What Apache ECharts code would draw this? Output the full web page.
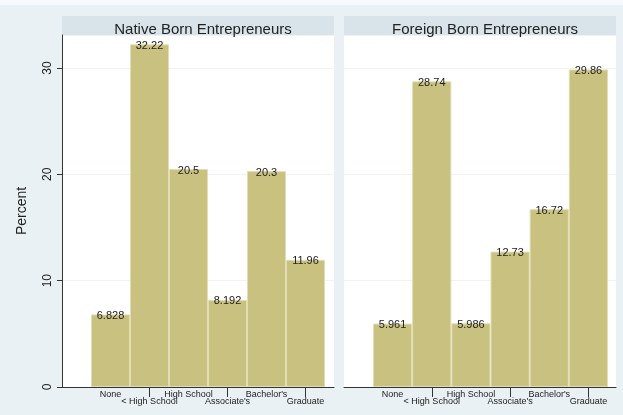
<!DOCTYPE html>
<html>
<head>
<meta charset="utf-8">
<script src="https://cdn.jsdelivr.net/npm/echarts@6/dist/echarts.min.js"></script>
<style>
html, body { margin: 0; padding: 0; }
#chart { width: 623px; height: 415px; }
</style>
</head>
<body>
<div id="chart"></div>
<script>
var categories = ['None', '< High School', 'High School', "Associate's", "Bachelor's", 'Graduate'];
var panelTitles = ['Native Born Entrepreneurs', 'Foreign Born Entrepreneurs'];
var nativeBorn = [6.828, 32.22, 20.5, 8.192, 20.3, 11.96];
var foreignBorn = [5.961, 28.74, 5.986, 12.73, 16.72, 29.86];
var yTicks = [0, 10, 20, 30];

var font = "'Liberation Sans', Arial, sans-serif";
var barColor = '#c9c17f';
var yMax = 33.1;
var plotTop = 35, plotBottom = 28; // 415 - 387

var chartDom = document.getElementById('chart');
var myChart = echarts.init(chartDom, null, { renderer: 'canvas', devicePixelRatio: 1 });

// outer grid = white plot region with axis lines, inner grid = bar band
var panels = [
	{ outer: 62, inner: 91, width: 272, innerWidth: 234, data: nativeBorn },
	{ outer: 344, inner: 373, width: 272, innerWidth: 235, data: foreignBorn }
];

var grids = [], xAxes = [], yAxes = [], series = [], titles = [], graphics = [];

graphics.push({ type: 'rect', shape: { x: 0, y: 0, width: 623, height: 5 }, style: { fill: '#f7fafb' }, silent: true });

panels.forEach(function (p, i) {
	graphics.push({ type: 'rect', z: -1, shape: { x: p.outer, y: 16, width: p.width, height: 19 }, style: { fill: '#d8e4ea' }, silent: true });
	titles.push({
		text: panelTitles[i],
		left: p.outer + p.width / 2,
		top: 17,
		textAlign: 'center',
		textStyle: { fontFamily: font, fontSize: 15, fontWeight: 'normal', color: '#222' }
	});

	grids.push({ left: p.outer, width: p.width, top: plotTop, bottom: plotBottom, show: true, backgroundColor: '#fff', borderWidth: 0 });
	grids.push({ left: p.inner, width: p.innerWidth, top: plotTop, bottom: plotBottom });

	var g = i * 2;
	xAxes.push({
		gridIndex: g, type: 'value', min: 0, max: 1,
		axisLine: { show: true, lineStyle: { color: '#333', width: 1 } },
		axisTick: { show: false }, axisLabel: { show: false }, splitLine: { show: false }
	});
	yAxes.push({
		gridIndex: g, type: 'value', min: 0, max: yMax, interval: 10,
		name: i === 0 ? 'Percent' : '',
		nameLocation: 'middle', nameGap: 33, nameRotate: 90,
		nameTextStyle: { fontFamily: font, fontSize: 14, color: '#222' },
		axisLine: { show: i === 0, lineStyle: { color: '#333' } },
		axisTick: { show: i === 0, length: 5, lineStyle: { color: '#333' } },
		axisLabel: {
			show: i === 0, rotate: 90, margin: 8, showMaxLabel: false,
			fontFamily: font, fontSize: 12, color: '#222',
			formatter: function (v) { return yTicks.indexOf(v) >= 0 ? String(v) : ''; }
		},
		splitLine: { show: true, lineStyle: { color: '#eef3f5', width: 1 } }
	});

	xAxes.push({
		gridIndex: g + 1, type: 'category', data: categories,
		axisLine: { show: false },
		axisTick: {
			show: true, alignWithLabel: true, length: 10, lineStyle: { color: '#333' },
			interval: function (idx) { return idx % 2 === 1; }
		},
		axisLabel: {
			interval: 0, margin: 3, fontFamily: font, fontSize: 9, color: '#222',
			formatter: function (v, idx) { return idx % 2 === 0 ? '{a|' + v + '}' : '{b|' + v + '}'; },
			rich: {
				a: { fontFamily: font, fontSize: 9, color: '#222' },
				b: { fontFamily: font, fontSize: 9, color: '#222', padding: [7, 0, 0, 0] }
			}
		}
	});
	yAxes.push({ gridIndex: g + 1, type: 'value', min: 0, max: yMax, show: false });

	series.push({
		type: 'bar',
		xAxisIndex: g + 1, yAxisIndex: g + 1,
		data: p.data,
		barCategoryGap: 0,
		itemStyle: { color: barColor, borderColor: '#e2ddb4', borderWidth: 1 },
		label: {
			show: true, position: 'insideTop', distance: 0, offset: [0, -4],
			fontFamily: font, fontSize: 11, color: '#222'
		}
	});
});

var option = {
	backgroundColor: '#eaf1f4',
	animation: false,
	title: titles,
	grid: grids,
	xAxis: xAxes,
	yAxis: yAxes,
	series: series,
	graphic: graphics
};

option && myChart.setOption(option);
</script>
</body>
</html>
